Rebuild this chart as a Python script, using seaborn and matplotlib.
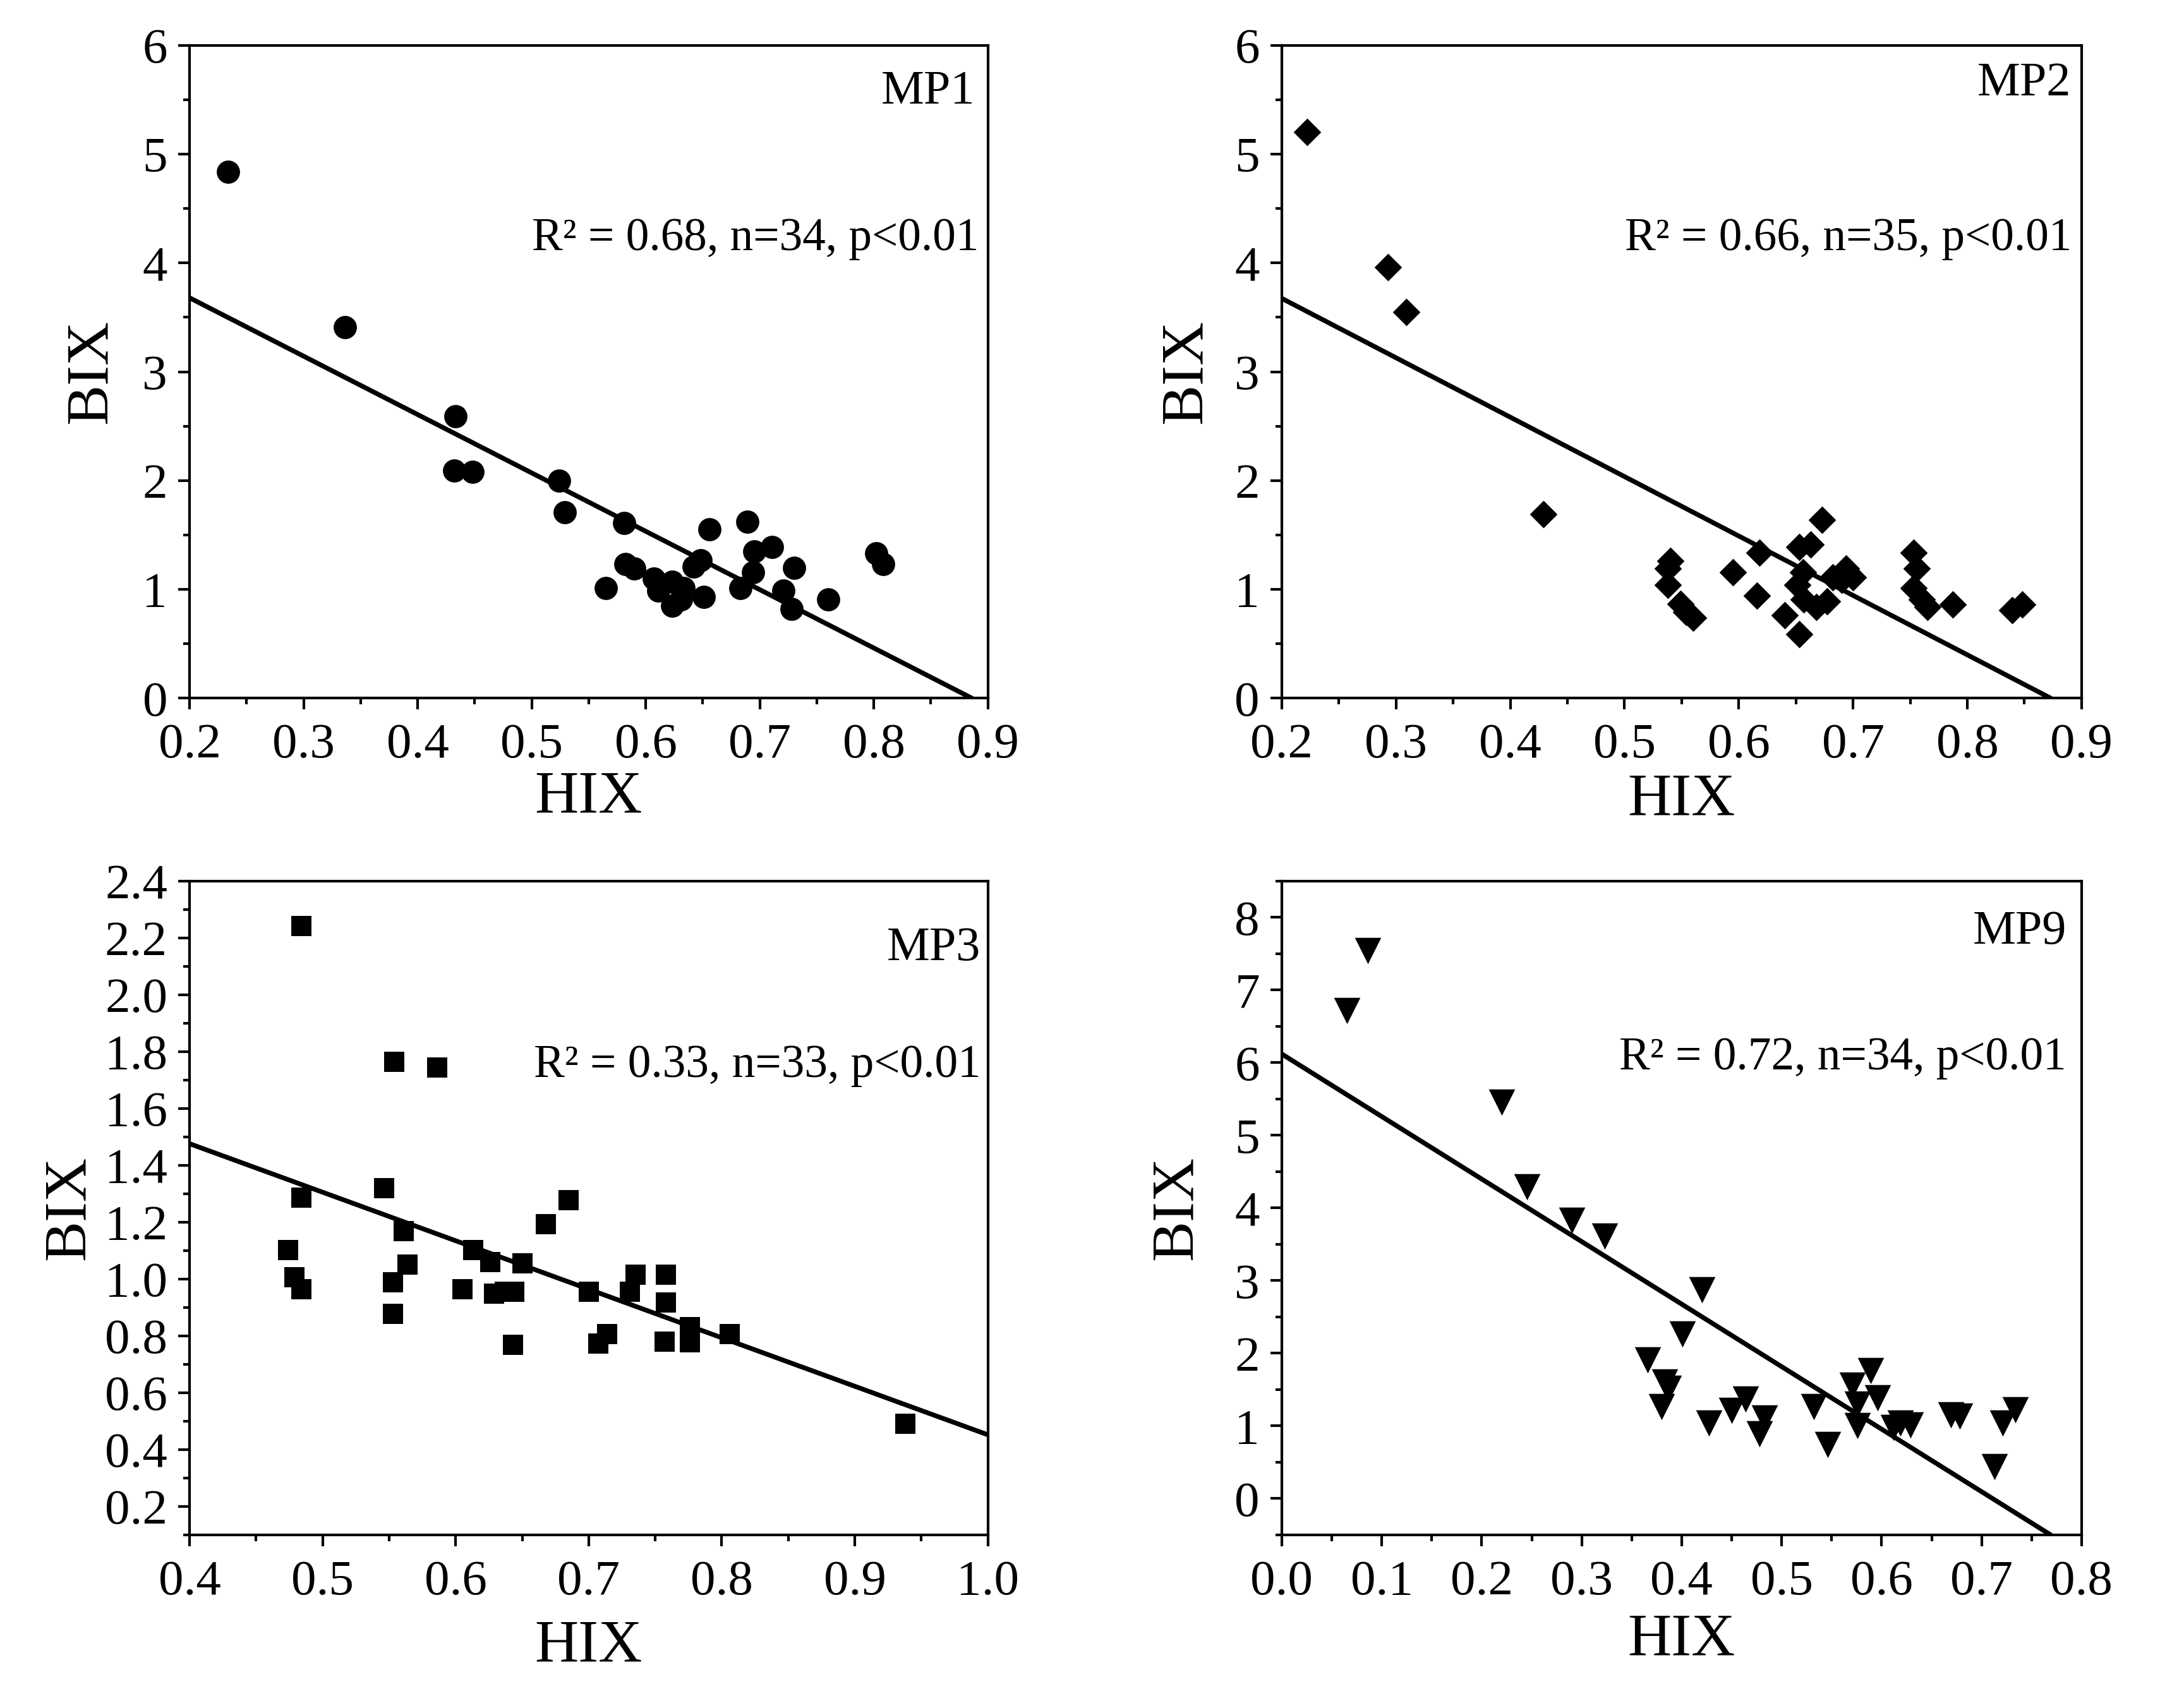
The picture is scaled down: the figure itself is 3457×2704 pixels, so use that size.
import numpy as np
import pandas as pd
import matplotlib
matplotlib.use("Agg")
import matplotlib.pyplot as plt
from matplotlib.ticker import MultipleLocator, FormatStrFormatter
import seaborn as sns

# ---------------- data ----------------
mp1_hix = [0.234, 0.336, 0.433, 0.432, 0.448, 0.524, 0.529, 0.581, 0.565, 0.582,
           0.590, 0.607, 0.611, 0.623, 0.633, 0.623, 0.631, 0.642, 0.648, 0.651,
           0.656, 0.683, 0.689, 0.694, 0.695, 0.711, 0.721, 0.730, 0.728, 0.760,
           0.802, 0.808]
mp1_bix = [4.84, 3.41, 2.59, 2.09, 2.08, 2.00, 1.71, 1.61, 1.01, 1.23,
           1.19, 1.10, 0.99, 1.07, 1.01, 0.85, 0.91, 1.21, 1.27, 0.93,
           1.55, 1.01, 1.62, 1.16, 1.35, 1.39, 0.99, 1.20, 0.82, 0.91,
           1.33, 1.23]

mp2_hix = [0.222, 0.293, 0.309, 0.429, 0.540, 0.538, 0.538, 0.549, 0.554, 0.560,
           0.595, 0.616, 0.618, 0.640, 0.653, 0.653, 0.663, 0.673, 0.651, 0.656,
           0.657, 0.668, 0.677, 0.682, 0.690, 0.694, 0.700, 0.753, 0.756, 0.753,
           0.760, 0.765, 0.787, 0.839, 0.848]
mp2_bix = [5.20, 3.96, 3.55, 1.69, 1.26, 1.19, 1.04, 0.87, 0.79, 0.74,
           1.16, 0.94, 1.34, 0.76, 0.59, 1.39, 1.41, 1.64, 1.04, 1.16,
           0.91, 0.84, 0.89, 1.11, 1.09, 1.19, 1.11, 1.34, 1.19, 1.01,
           0.91, 0.84, 0.86, 0.81, 0.86]

mp3_hix = [0.484, 0.554, 0.586, 0.546, 0.484, 0.474, 0.479, 0.484, 0.553, 0.553,
           0.561, 0.564, 0.605, 0.613, 0.626, 0.629, 0.637, 0.644, 0.643, 0.650,
           0.668, 0.685, 0.700, 0.707, 0.714, 0.731, 0.735, 0.758, 0.758, 0.757,
           0.776, 0.776, 0.806, 0.938]
mp3_bix = [2.243, 1.765, 1.745, 1.319, 1.286, 1.102, 1.007, 0.965, 0.988, 0.878,
           1.169, 1.051, 0.965, 1.102, 1.060, 0.949, 0.955, 0.955, 0.769, 1.056,
           1.194, 1.277, 0.955, 0.773, 0.806, 0.955, 1.016, 1.016, 0.917, 0.779,
           0.831, 0.777, 0.806, 0.490]

mp9_hix = [0.065, 0.086, 0.220, 0.245, 0.290, 0.323, 0.420, 0.401, 0.366, 0.383,
           0.387, 0.380, 0.427, 0.450, 0.464, 0.478, 0.483, 0.532, 0.546, 0.571,
           0.576, 0.576, 0.589, 0.596, 0.612, 0.619, 0.629, 0.669, 0.678, 0.713,
           0.721, 0.734]
mp9_bix = [6.72, 7.54, 5.46, 4.29, 3.83, 3.61, 2.87, 2.26, 1.91, 1.60,
           1.52, 1.26, 1.04, 1.21, 1.37, 0.89, 1.11, 1.26, 0.74, 1.56,
           1.30, 1.00, 1.76, 1.39, 0.98, 1.04, 1.01, 1.15, 1.13, 0.44,
           1.04, 1.22]

panel_names = ["MP1", "MP2", "MP3", "MP9"]
stat_texts = ["R\u00b2 = 0.68, n=34, p<0.01",
              "R\u00b2 = 0.66, n=35, p<0.01",
              "R\u00b2 = 0.33, n=33, p<0.01",
              "R\u00b2 = 0.72, n=34, p<0.01"]
# fitted regression lines (intercept, slope)
line_intercept = [4.752, 4.766, 2.159, 6.12]
line_slope = [-5.363, -5.459, -1.707, -8.609]

x_ticks = [[0.2, 0.3, 0.4, 0.5, 0.6, 0.7, 0.8, 0.9],
           [0.2, 0.3, 0.4, 0.5, 0.6, 0.7, 0.8, 0.9],
           [0.4, 0.5, 0.6, 0.7, 0.8, 0.9, 1.0],
           [0.0, 0.1, 0.2, 0.3, 0.4, 0.5, 0.6, 0.7, 0.8]]
y_ticks = [[0, 1, 2, 3, 4, 5, 6],
           [0, 1, 2, 3, 4, 5, 6],
           [0.2, 0.4, 0.6, 0.8, 1.0, 1.2, 1.4, 1.6, 1.8, 2.0, 2.2, 2.4],
           [0, 1, 2, 3, 4, 5, 6, 7, 8]]

# ---------------- styling ----------------
sns.set_theme(style="ticks")
plt.rcParams["font.family"] = ["Liberation Serif", "DejaVu Serif"]
plt.rcParams.update({
    "axes.edgecolor": "black",
    "axes.linewidth": 1.0,
    "xtick.color": "black", "ytick.color": "black",
    "xtick.direction": "out", "ytick.direction": "out",
    "xtick.major.size": 4.4, "ytick.major.size": 4.4,
    "xtick.minor.size": 2.4, "ytick.minor.size": 2.4,
    "xtick.major.width": 1.0, "ytick.major.width": 1.0,
    "xtick.minor.width": 1.0, "ytick.minor.width": 1.0,
    "xtick.labelsize": 19, "ytick.labelsize": 19,
    "text.color": "black", "axes.labelcolor": "black",
})

W, H = 3457, 2704
DPI = 300
fig = plt.figure(figsize=(W / DPI, H / DPI), dpi=DPI)

axes_rects = [
    [0.0868, 0.5912, 0.3655, 0.3823],
    [0.5869, 0.5912, 0.3662, 0.3823],
    [0.0868, 0.1014, 0.3655, 0.3827],
    [0.5869, 0.1014, 0.3662, 0.3827],
]
xlims = [(0.2, 0.9), (0.2, 0.9), (0.4, 1.0), (0.0, 0.8)]
ylims = [(0, 6), (0, 6), (0.1, 2.4), (-0.5, 8.5)]
x_minor = [0.05, 0.05, 0.05, 0.05]
y_minor = [0.5, 0.5, 0.1, 0.5]
x_fmt = ["%.1f"] * 4
y_fmt = ["%d", "%d", "%.1f", "%d"]
markers = ["o", "D", "s", "v"]
sizes = [78, 55, 62, 100]
name_pos = [(0.984, 0.911), (0.987, 0.923), (0.991, 0.879), (0.981, 0.904)]
stat_pos = [(0.989, 0.686), (0.988, 0.686), (0.991, 0.700), (0.981, 0.7125)]
ylabel_x = [-0.122, -0.119, -0.150, -0.131]
xlabel_y = [-0.153, -0.157, -0.171, -0.162]

data = [(mp1_hix, mp1_bix), (mp2_hix, mp2_bix), (mp3_hix, mp3_bix), (mp9_hix, mp9_bix)]

for i, (hx, bx) in enumerate(data):
    ax = fig.add_axes(axes_rects[i])
    df = pd.DataFrame({"HIX": hx, "BIX": bx})
    sns.scatterplot(data=df, x="HIX", y="BIX", ax=ax, marker=markers[i],
                    s=sizes[i], color="black", edgecolor="black", linewidth=0,
                    zorder=3, legend=False)
    ax.axline((0, line_intercept[i]), slope=line_slope[i], color="black",
              linewidth=1.8, zorder=2)
    ax.set_xlim(*xlims[i])
    ax.set_ylim(*ylims[i])
    ax.set_xticks(x_ticks[i])
    ax.set_yticks(y_ticks[i])
    ax.xaxis.set_major_formatter(FormatStrFormatter(x_fmt[i]))
    ax.yaxis.set_major_formatter(FormatStrFormatter(y_fmt[i]))
    ax.xaxis.set_minor_locator(MultipleLocator(x_minor[i]))
    ax.yaxis.set_minor_locator(MultipleLocator(y_minor[i]))
    ax.tick_params(axis="x", which="both", top=False, pad=5)
    ax.tick_params(axis="y", which="both", right=False, pad=4)
    for sp in ax.spines.values():
        sp.set_visible(True)
        sp.set_color("black")
        sp.set_linewidth(1.0)
    ax.set_xlabel("HIX", fontsize=23, va="center")
    ax.set_ylabel("BIX", fontsize=23, va="center")
    ax.xaxis.set_label_coords(0.5, xlabel_y[i])
    ax.yaxis.set_label_coords(ylabel_x[i], 0.5)
    ax.text(name_pos[i][0], name_pos[i][1], panel_names[i], transform=ax.transAxes,
            ha="right", va="baseline", fontsize=18.3)
    ax.text(stat_pos[i][0], stat_pos[i][1], stat_texts[i], transform=ax.transAxes,
            ha="right", va="baseline", fontsize=17.6)
    ax.set_facecolor("white")

fig.patch.set_facecolor("white")
fig.savefig("out.png", dpi=DPI, facecolor="white")
